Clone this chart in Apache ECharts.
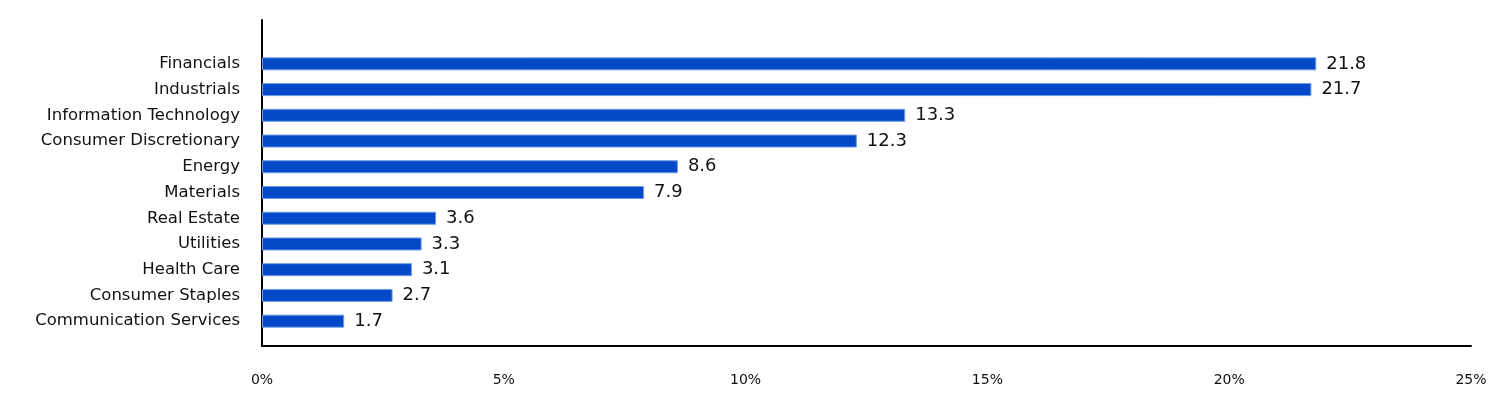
<!DOCTYPE html>
<html>
<head>
<meta charset="utf-8">
<script src="https://cdn.jsdelivr.net/npm/echarts@6/dist/echarts.min.js"></script>
<style>
  html, body { margin: 0; padding: 0; background: #fff; }
  #chart { width: 1512px; height: 420px; }
</style>
</head>
<body>
<div id="chart"></div>
<script>
// sector weights (%)
const sectors = [
  "Financials", "Industrials", "Information Technology", "Consumer Discretionary",
  "Energy", "Materials", "Real Estate", "Utilities", "Health Care",
  "Consumer Staples", "Communication Services"
];
const weights = [21.8, 21.7, 13.3, 12.3, 8.6, 7.9, 3.6, 3.3, 3.1, 2.7, 1.7];
const xMin = 0, xMax = 25, xStep = 5;

const FONT = "DejaVu Sans";
const chart = echarts.init(document.getElementById("chart"));

const option = {
  animation: false,
  grid: [
    // outer frame: axis lines + % ticks
    { left: 262, right: 41, top: 20, bottom: 74 },
    // bars + category labels
    { left: 262, right: 41, top: 51, height: 283 }
  ],
  xAxis: [
    {
      type: "value", gridIndex: 0, min: xMin, max: xMax, interval: xStep,
      axisLine: { show: true, lineStyle: { color: "#000", width: 2 } },
      axisTick: { show: false },
      splitLine: { show: false },
      axisLabel: { margin: 27, color: "#111", fontFamily: FONT, fontSize: 14, formatter: "{value}%" }
    },
    {
      type: "value", gridIndex: 1, min: xMin, max: xMax,
      axisLine: { show: false }, axisTick: { show: false },
      splitLine: { show: false }, axisLabel: { show: false }
    }
  ],
  yAxis: [
    {
      type: "category", gridIndex: 0, data: [],
      axisLine: { show: true, lineStyle: { color: "#000", width: 2 } },
      axisTick: { show: false }, axisLabel: { show: false }
    },
    {
      type: "category", gridIndex: 1, data: sectors, inverse: true,
      axisLine: { show: false }, axisTick: { show: false },
      axisLabel: { margin: 22, color: "#111", fontFamily: FONT, fontSize: 16.5 }
    }
  ],
  series: [{
    type: "bar", xAxisIndex: 1, yAxisIndex: 1,
    data: weights, barWidth: 13,
    itemStyle: { color: "#0349c8", borderColor: "#6f9be6", borderWidth: 1 },
    label: {
      show: true, position: "right", distance: 10,
      color: "#111", fontFamily: FONT, fontSize: 18,
      formatter: p => p.value.toFixed(1)
    }
  }]
};
chart.setOption(option);
</script>
</body>
</html>
